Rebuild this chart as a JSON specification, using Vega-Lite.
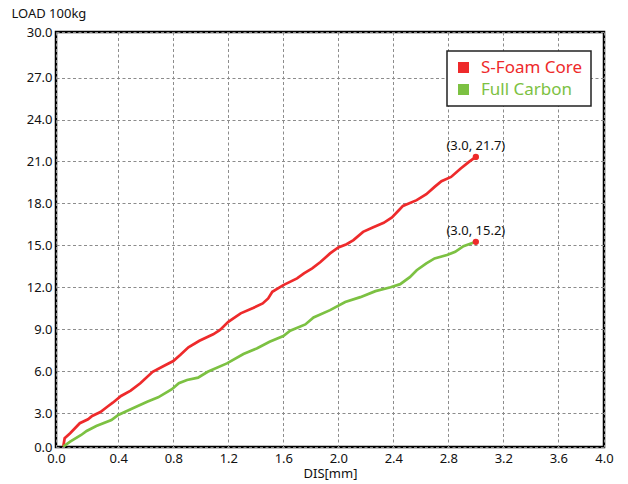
{
  "$schema": "https://vega.github.io/schema/vega-lite/v6.json",
  "width": 548,
  "height": 415,
  "autosize": {"type": "none"},
  "padding": {"left": 56, "top": 32, "right": 24, "bottom": 37},
  "background": "white",
  "config": {
    "font": "Noto Sans",
    "view": {"stroke": "#000", "strokeWidth": 2.5, "fill": "white"},
    "axis": {
      "domain": false,
      "ticks": false,
      "grid": true,
      "gridColor": "#8c8c8c",
      "gridDash": [3, 2.5],
      "gridWidth": 1,
      "labelFont": "Noto Sans",
      "labelFontSize": 13,
      "labelColor": "#111",
      "titleFont": "Noto Sans",
      "titleFontSize": 13,
      "titleFontWeight": "normal",
      "titleColor": "#111"
    }
  },
  "datasets": {
    "curves": [
      {"series": "S-Foam Core", "x": 0.0, "y": 0.6},
      {"series": "S-Foam Core", "x": 0.01, "y": 1.2},
      {"series": "S-Foam Core", "x": 0.05, "y": 1.55},
      {"series": "S-Foam Core", "x": 0.12, "y": 2.27},
      {"series": "S-Foam Core", "x": 0.18, "y": 2.55},
      {"series": "S-Foam Core", "x": 0.21, "y": 2.79},
      {"series": "S-Foam Core", "x": 0.27, "y": 3.07},
      {"series": "S-Foam Core", "x": 0.32, "y": 3.45},
      {"series": "S-Foam Core", "x": 0.36, "y": 3.74},
      {"series": "S-Foam Core", "x": 0.42, "y": 4.22},
      {"series": "S-Foam Core", "x": 0.49, "y": 4.6},
      {"series": "S-Foam Core", "x": 0.56, "y": 5.13},
      {"series": "S-Foam Core", "x": 0.65, "y": 5.95},
      {"series": "S-Foam Core", "x": 0.73, "y": 6.36},
      {"series": "S-Foam Core", "x": 0.8, "y": 6.72},
      {"series": "S-Foam Core", "x": 0.85, "y": 7.15},
      {"series": "S-Foam Core", "x": 0.91, "y": 7.7},
      {"series": "S-Foam Core", "x": 0.99, "y": 8.17},
      {"series": "S-Foam Core", "x": 1.09, "y": 8.63},
      {"series": "S-Foam Core", "x": 1.14, "y": 8.94},
      {"series": "S-Foam Core", "x": 1.2, "y": 9.53},
      {"series": "S-Foam Core", "x": 1.29, "y": 10.13},
      {"series": "S-Foam Core", "x": 1.38, "y": 10.51},
      {"series": "S-Foam Core", "x": 1.45, "y": 10.84},
      {"series": "S-Foam Core", "x": 1.49, "y": 11.2},
      {"series": "S-Foam Core", "x": 1.52, "y": 11.67},
      {"series": "S-Foam Core", "x": 1.6, "y": 12.15},
      {"series": "S-Foam Core", "x": 1.7, "y": 12.63},
      {"series": "S-Foam Core", "x": 1.75, "y": 12.99},
      {"series": "S-Foam Core", "x": 1.81, "y": 13.35},
      {"series": "S-Foam Core", "x": 1.87, "y": 13.8},
      {"series": "S-Foam Core", "x": 1.94, "y": 14.42},
      {"series": "S-Foam Core", "x": 2.0, "y": 14.85},
      {"series": "S-Foam Core", "x": 2.06, "y": 15.08},
      {"series": "S-Foam Core", "x": 2.11, "y": 15.37},
      {"series": "S-Foam Core", "x": 2.18, "y": 15.96},
      {"series": "S-Foam Core", "x": 2.25, "y": 16.28},
      {"series": "S-Foam Core", "x": 2.33, "y": 16.61},
      {"series": "S-Foam Core", "x": 2.39, "y": 16.99},
      {"series": "S-Foam Core", "x": 2.44, "y": 17.51},
      {"series": "S-Foam Core", "x": 2.47, "y": 17.82},
      {"series": "S-Foam Core", "x": 2.57, "y": 18.23},
      {"series": "S-Foam Core", "x": 2.64, "y": 18.66},
      {"series": "S-Foam Core", "x": 2.7, "y": 19.18},
      {"series": "S-Foam Core", "x": 2.75, "y": 19.59},
      {"series": "S-Foam Core", "x": 2.82, "y": 19.89},
      {"series": "S-Foam Core", "x": 2.89, "y": 20.49},
      {"series": "S-Foam Core", "x": 2.95, "y": 20.97},
      {"series": "S-Foam Core", "x": 3.0, "y": 21.32},
      {"series": "Full Carbon", "x": 0.0, "y": 0.6},
      {"series": "Full Carbon", "x": 0.05, "y": 0.95},
      {"series": "Full Carbon", "x": 0.13, "y": 1.43},
      {"series": "Full Carbon", "x": 0.17, "y": 1.72},
      {"series": "Full Carbon", "x": 0.24, "y": 2.07},
      {"series": "Full Carbon", "x": 0.35, "y": 2.5},
      {"series": "Full Carbon", "x": 0.4, "y": 2.86},
      {"series": "Full Carbon", "x": 0.49, "y": 3.27},
      {"series": "Full Carbon", "x": 0.61, "y": 3.81},
      {"series": "Full Carbon", "x": 0.69, "y": 4.12},
      {"series": "Full Carbon", "x": 0.79, "y": 4.7},
      {"series": "Full Carbon", "x": 0.84, "y": 5.13},
      {"series": "Full Carbon", "x": 0.9, "y": 5.36},
      {"series": "Full Carbon", "x": 0.98, "y": 5.53},
      {"series": "Full Carbon", "x": 1.05, "y": 5.95},
      {"series": "Full Carbon", "x": 1.19, "y": 6.55},
      {"series": "Full Carbon", "x": 1.31, "y": 7.22},
      {"series": "Full Carbon", "x": 1.41, "y": 7.63},
      {"series": "Full Carbon", "x": 1.5, "y": 8.1},
      {"series": "Full Carbon", "x": 1.6, "y": 8.51},
      {"series": "Full Carbon", "x": 1.65, "y": 8.89},
      {"series": "Full Carbon", "x": 1.76, "y": 9.34},
      {"series": "Full Carbon", "x": 1.82, "y": 9.84},
      {"series": "Full Carbon", "x": 1.94, "y": 10.36},
      {"series": "Full Carbon", "x": 2.05, "y": 10.94},
      {"series": "Full Carbon", "x": 2.16, "y": 11.29},
      {"series": "Full Carbon", "x": 2.27, "y": 11.72},
      {"series": "Full Carbon", "x": 2.38, "y": 12.0},
      {"series": "Full Carbon", "x": 2.45, "y": 12.22},
      {"series": "Full Carbon", "x": 2.52, "y": 12.72},
      {"series": "Full Carbon", "x": 2.57, "y": 13.22},
      {"series": "Full Carbon", "x": 2.64, "y": 13.7},
      {"series": "Full Carbon", "x": 2.7, "y": 14.06},
      {"series": "Full Carbon", "x": 2.79, "y": 14.3},
      {"series": "Full Carbon", "x": 2.85, "y": 14.53},
      {"series": "Full Carbon", "x": 2.91, "y": 14.94},
      {"series": "Full Carbon", "x": 3.0, "y": 15.25}
    ],
    "ends": [
      {"x": 3.0, "y": 21.32, "label": "(3.0, 21.7)"},
      {"x": 3.0, "y": 15.25, "label": "(3.0, 15.2)"}
    ]
  },
  "layer": [
    {
      "data": {"name": "curves"},
      "mark": {"type": "line", "strokeWidth": 2.7, "clip": true},
      "encoding": {
        "x": {
          "field": "x",
          "type": "quantitative",
          "scale": {"domain": [-0.053, 3.932], "nice": false, "zero": false},
          "axis": {
            "values": [-0.053, 0.4, 0.8, 1.2, 1.6, 2.0, 2.4, 2.8, 3.2, 3.6, 3.932],
            "labelExpr": "datum.value < 0 ? '0.0' : datum.value > 3.9 ? '4.0' : format(datum.value, '.1f')",
            "labelPadding": 5,
            "labelFlush": false,
            "title": "DIS[mm]",
            "titleY": 26,
            "titleBaseline": "middle"
          }
        },
        "y": {
          "field": "y",
          "type": "quantitative",
          "scale": {"domain": [0.57, 30.26], "nice": false, "zero": false},
          "axis": {
            "values": [0.57, 3, 6, 9, 12, 15, 18, 21, 24, 27, 30.26],
            "labelExpr": "datum.value < 1 ? '0.0' : datum.value > 30 ? '30.0' : format(datum.value, '.1f')",
            "labelPadding": 4,
            "labelFlush": false,
            "title": "LOAD 100kg",
            "titleAngle": 0,
            "titleAlign": "left",
            "titleBaseline": "middle",
            "titleX": -45,
            "titleY": -19
          }
        },
        "color": {
          "field": "series",
          "type": "nominal",
          "scale": {"domain": ["S-Foam Core", "Full Carbon"], "range": ["#ee2a2b", "#7cc142"]},
          "legend": {
            "orient": "none",
            "legendX": 391,
            "legendY": 19,
            "title": null,
            "direction": "vertical",
            "symbolType": "square",
            "symbolSize": 121,
            "symbolStrokeWidth": 0,
            "labelFont": "Noto Sans",
            "labelFontSize": 17,
            "labelOffset": 9,
            "rowPadding": 4,
            "padding": 8,
            "strokeColor": "#222",
            "fillColor": "white",
            "encode": {
              "legend": {"update": {"strokeWidth": {"value": 1.5}}},
              "symbols": {"update": {"fill": {"signal": "datum.value === 'S-Foam Core' ? '#ee2a2b' : '#7cc142'"}, "shape": {"value": "square"}, "strokeWidth": {"value": 0}}},
              "labels": {"update": {"fill": {"signal": "datum.value === 'S-Foam Core' ? '#ee2a2b' : '#7cc142'"}}}
            }
          }
        }
      }
    },
    {
      "data": {"name": "ends"},
      "mark": {"type": "circle", "color": "#ee2a2b", "size": 40, "opacity": 1},
      "encoding": {
        "x": {"field": "x", "type": "quantitative"},
        "y": {"field": "y", "type": "quantitative"}
      }
    },
    {
      "data": {"name": "ends"},
      "mark": {"type": "text", "dy": -11, "fontSize": 13, "color": "#111", "font": "Noto Sans"},
      "encoding": {
        "x": {"field": "x", "type": "quantitative"},
        "y": {"field": "y", "type": "quantitative"},
        "text": {"field": "label"}
      }
    }
  ]
}
